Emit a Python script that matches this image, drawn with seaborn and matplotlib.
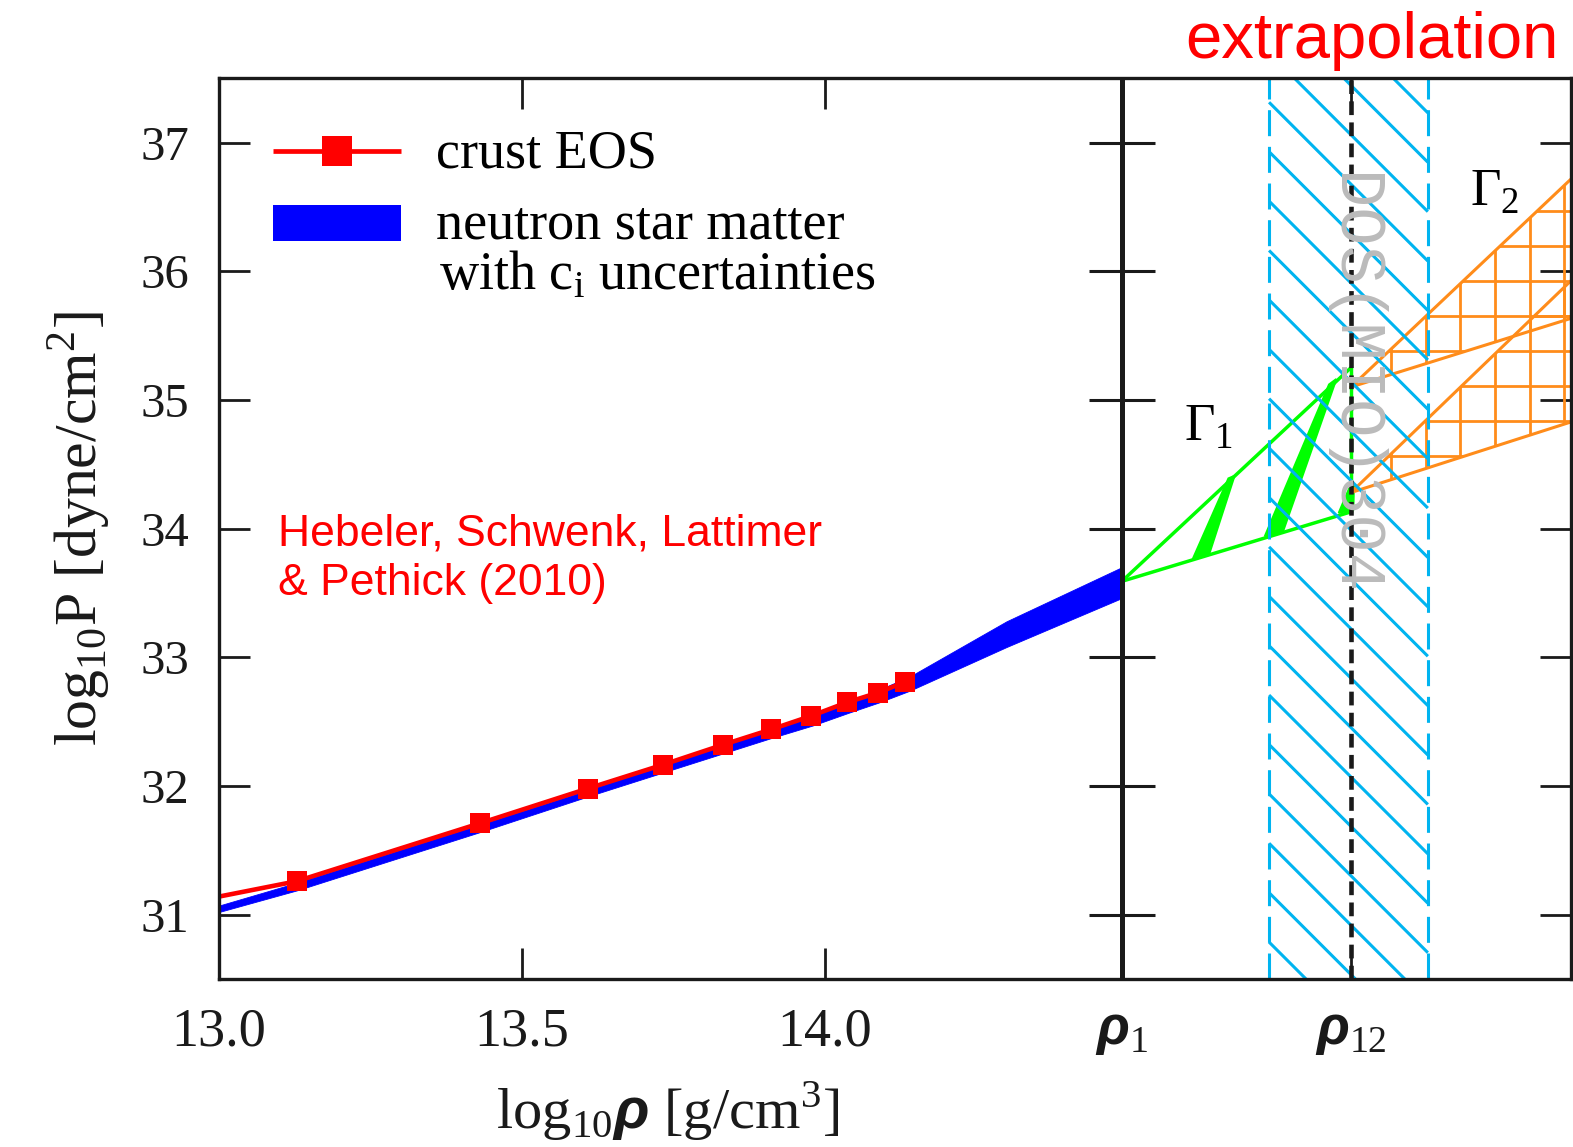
import numpy as np
import matplotlib
matplotlib.use("Agg")
import matplotlib.pyplot as plt
import seaborn as sns
from matplotlib.patches import Polygon, Rectangle
from matplotlib.collections import LineCollection

# ---------------- data ----------------
crust_x = [13.0, 13.129, 13.431, 13.609, 13.733, 13.832, 13.912, 13.978, 14.037, 14.088, 14.133]
crust_y = [31.14, 31.26, 31.71, 31.98, 32.165, 32.32, 32.44, 32.545, 32.65, 32.725, 32.81]

band_x = [13.0, 13.13, 13.43, 13.61, 13.73, 13.83, 13.91, 13.98, 14.04, 14.09, 14.14, 14.30, 14.49]
band_lo = [31.02, 31.19, 31.64, 31.92, 32.10, 32.25, 32.37, 32.47, 32.57, 32.65, 32.74, 33.08, 33.46]
band_hi = [31.07, 31.25, 31.70, 31.97, 32.16, 32.32, 32.45, 32.56, 32.66, 32.75, 32.85, 33.28, 33.70]

rho1 = 14.49
rho12 = 14.868
rho12_lo, rho12_hi = 14.733, 14.995
x_max = 15.232

gamma1_P0 = 33.59
gamma1_P_end = [34.13, 35.25]          # lower / upper line at rho12
stroke_A_x = [14.607, 14.634, 14.676, 14.666]
stroke_A_y = [33.762, 33.799, 34.410, 34.390]
stroke_B_x = [14.726, 14.756, 14.844, 14.832]
stroke_B_y = [33.940, 33.978, 35.162, 35.120]
stroke_C_x = [14.848, 14.872, 14.873, 14.865]
stroke_C_y = [34.122, 34.148, 34.334, 34.310]

gamma2_P0 = [35.10, 34.28]             # upper fan, lower fan origins at rho12
gamma2_P_hi = [36.72, 35.93]           # upper edges at right border
gamma2_P_lo = [35.635, 34.83]          # lower edges at right border

xticks = [13.0, 13.5, 14.0, rho1, rho12]
xticklabels = ["13.0", "13.5", "14.0", r"$\rho_{1}$", r"$\rho_{12}$"]
yticks = [31, 32, 33, 34, 35, 36, 37]
yticklabels = ["31", "32", "33", "34", "35", "36", "37"]

# ---------------- style ----------------
sns.set_theme(style="ticks")
plt.rcParams["font.family"] = ["Liberation Serif", "DejaVu Serif"]
plt.rcParams["mathtext.fontset"] = "custom"
plt.rcParams["mathtext.rm"] = "Liberation Serif"
plt.rcParams["mathtext.it"] = "Liberation Sans:italic:bold"
plt.rcParams["mathtext.bf"] = "Liberation Serif:bold"
plt.rcParams["mathtext.sf"] = "Liberation Sans"
for key in ["text.color", "axes.labelcolor", "xtick.color", "ytick.color",
            "xtick.labelcolor", "ytick.labelcolor", "axes.edgecolor"]:
    plt.rcParams[key] = "black"

RED = "#FF0000"
BLUE = "#0000FF"
GREEN = "#00FF00"
ORANGE = "#FF8C1A"
CYAN = "#00B4F0"

W, H = 1573, 1147
fig = plt.figure(figsize=(W / 100, H / 100), dpi=100)
ax = fig.add_axes([218.7 / W, 168 / H, 1352.8 / W, 900.8 / H])
ax.set_xlim(13.0, x_max)
ax.set_ylim(30.5, 37.5)
ppx = 1352.8 / (x_max - 13.0)
ppy = 900.8 / 7.0

# blue band: neutron star matter
ax.fill_between(band_x, band_lo, band_hi, color=BLUE, lw=0.6, edgecolor=BLUE, zorder=2)

# red crust EOS
sns.lineplot(x=crust_x, y=crust_y, ax=ax, color=RED, lw=3.3, marker="s", markersize=14,
             markeredgewidth=0, markevery=list(range(1, len(crust_x))), sort=False,
             errorbar=None, zorder=3)

# rho1 line with cross ticks
ax.axvline(rho1, color="k", lw=3.6, zorder=6)
ax.plot([rho1] * len(yticks), yticks, ls="none", marker="_", ms=48, mew=2.2, color="k", zorder=6)

# Gamma1 fan (green)
ax.plot([rho1, rho12], [gamma1_P0, gamma1_P_end[0]], color=GREEN, lw=2.5, zorder=4)
ax.plot([rho1, rho12], [gamma1_P0, gamma1_P_end[1]], color=GREEN, lw=2.5, zorder=4)
ax.plot([rho12, rho12], gamma1_P_end, color=GREEN, lw=2.5, zorder=4)
for sx, sy in [(stroke_A_x, stroke_A_y), (stroke_B_x, stroke_B_y), (stroke_C_x, stroke_C_y)]:
    ax.add_patch(Polygon(np.column_stack([sx, sy]), closed=True, facecolor=GREEN,
                         edgecolor=GREEN, lw=1.5, zorder=4))

# Gamma2 fans (orange, cross-hatched)
gx0 = 14.934
gsx = 34.7 / ppx
gy0 = 35.383
gsy = 35.0 / ppy
vx = gx0 + gsx * np.arange(-3, 8)
hy = gy0 + gsy * np.arange(-8, 8)
for p0, phi, plo in zip(gamma2_P0, gamma2_P_hi, gamma2_P_lo):
    poly = Polygon([[rho12, p0], [x_max, phi], [x_max, plo]], closed=True,
                   facecolor="none", edgecolor="none", transform=ax.transData)
    ax.add_patch(poly)
    segs = [[(x, 30.5), (x, 37.5)] for x in vx] + [[(13.0, y), (x_max, y)] for y in hy]
    lc = LineCollection(segs, colors=ORANGE, linewidths=2.0, zorder=4)
    ax.add_collection(lc)
    lc.set_clip_path(poly)
    ax.plot([rho12, x_max], [p0, phi], color=ORANGE, lw=2.2, zorder=4)
    ax.plot([rho12, x_max], [p0, plo], color=ORANGE, lw=2.2, zorder=4)

# rho12 uncertainty region (cyan dashed borders + diagonal hatch)
ax.axvline(rho12_lo, color=CYAN, lw=2.2, ls=(0, (8.5, 3.5)), zorder=5)
ax.axvline(rho12_hi, color=CYAN, lw=2.2, ls=(0, (8.5, 3.5)), zorder=5)
slope = -ppx / ppy
spacing = 49.4 / ppy
y_start = 37.313
hsegs = []
for k in range(-3, 22):
    y_left = y_start - k * spacing
    hsegs.append([(rho12_lo, y_left), (rho12_hi, y_left + slope * (rho12_hi - rho12_lo))])
ax.add_collection(LineCollection(hsegs, colors=CYAN, linewidths=2.2, zorder=5))

# rho12 line
ax.axvline(rho12, color="k", lw=3.3, ls=(0, (3.0, 1.6)), zorder=6)

# watermark
ax.text(rho12 + 0.004, 35.12, "DOS(MIO)304", rotation=270, ha="center", va="center",
        fontsize=46, color="#BBBBBB", family=["Liberation Mono", "DejaVu Sans Mono"], zorder=7)

# Gamma labels
ax.text(14.593, 34.687, r"$\Gamma_{1}$", fontsize=38, va="baseline", ha="left", zorder=7)
ax.text(15.065, 36.51, r"$\Gamma_{2}$", fontsize=38, va="baseline", ha="left", zorder=7)

# reference text (va baseline -> baseline of the last line)
ax.text(13.098, 33.485, "Hebeler, Schwenk, Lattimer\n& Pethick (2010)", color=RED,
        fontsize=32, family=["Liberation Sans", "DejaVu Sans"], va="baseline", ha="left",
        linespacing=1.25, zorder=7)

# manual legend
ax.plot([0.0401, 0.1348], [0.9197, 0.9197], transform=ax.transAxes, color=RED, lw=3.4,
        solid_capstyle="butt", zorder=8)
ax.plot([0.0874], [0.9197], transform=ax.transAxes, color=RED, marker="s", ms=21,
        mew=0, ls="none", zorder=8)
ax.add_patch(Rectangle((0.0401, 0.8196), 0.0947, 0.0401, transform=ax.transAxes,
                       facecolor=BLUE, edgecolor="none", zorder=8))
ax.text(0.1609, 0.9009, "crust EOS", transform=ax.transAxes, fontsize=39, va="baseline", zorder=8)
ax.text(0.1609, 0.8218, "neutron star matter", transform=ax.transAxes, fontsize=39,
        va="baseline", zorder=8)
ax.text(0.1631, 0.7649, r"with c$_{\mathrm{i}}$ uncertainties", transform=ax.transAxes,
        fontsize=39, va="baseline", zorder=8)

# extrapolation title
fig.text(1185 / W, 1 - 58 / H, "extrapolation", color=RED, fontsize=47,
         family=["Liberation Sans", "DejaVu Sans"], va="baseline", ha="left")

# axes, ticks, labels
ax.set_xticks(xticks)
ax.set_xticklabels(xticklabels)
ax.set_yticks(yticks)
ax.set_yticklabels(yticklabels)
ax.tick_params(axis="both", direction="in", length=22, width=2.0, color="k",
               labelcolor="k", top=True, right=True)
ax.tick_params(axis="x", labelsize=39, pad=20)
ax.tick_params(axis="y", labelsize=35, pad=21)
for s in ax.spines.values():
    s.set_linewidth(2.4)
    s.set_color("k")
    s.set_zorder(9)

ax.set_xlabel(r"log$_{10}\rho$ [g/cm$^{3}$]", fontsize=42, color="k")
ax.xaxis.set_label_coords(0.332, -0.112)
ax.set_ylabel(r"log$_{10}$P [dyne/cm$^{2}$]", fontsize=43, labelpad=20, color="k")
ax.grid(False)

fig.savefig("out.png", dpi=100)
